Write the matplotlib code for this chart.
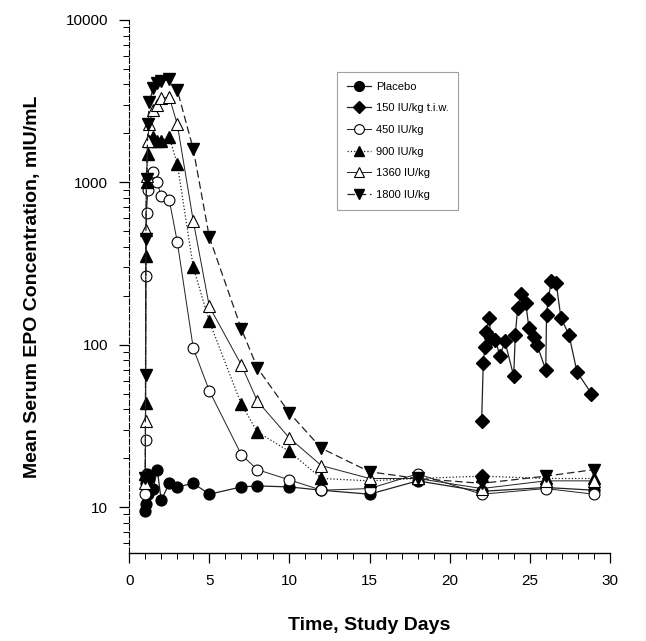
import numpy as np
import matplotlib
matplotlib.use("Agg")
import matplotlib.pyplot as plt
from matplotlib.ticker import LogLocator, FixedLocator, FuncFormatter, MultipleLocator

plt.rcParams['font.family'] = ['Liberation Sans', 'DejaVu Sans']

# sampling days (dose given on day 1)
t_single = [1.0, 1.02, 1.04, 1.08, 1.17, 1.25, 1.5, 1.75, 2.0, 2.5, 3.0,
            4, 5, 7, 8, 10, 12, 15, 18, 22, 26, 29]

placebo = [9.5, 14, 10.5, 16, 12, 15, 13, 17, 11, 14, 13.3,
           14, 12, 13.3, 13.5, 13.3, 12.7, 12, 14.5, 12.5, 13.2, 12.7]
dose_450 = [12, 26, 263, 650, 900, 1000, 1150, 1000, 820, 780, 430,
            95, 52, 21, 17, 14.7, 12.7, 13, 16, 12, 13, 12]
dose_900 = [16, 44, 350, 1000, 1500, 1800, 1900, 1800, 1800, 1900, 1300,
            300, 139, 43, 29, 22, 15, 14.5, 15, 15.5, 15, 15]
dose_1360 = [14, 34, 510, 1100, 1800, 2300, 2800, 3000, 3300, 3340, 2280,
             577, 172, 75, 45, 26.6, 18, 15, 15, 13, 14.5, 14.5]
dose_1800 = [15, 65, 450, 1050, 2300, 3100, 3800, 4100, 4200, 4300, 3700,
             1600, 460, 125, 72, 38, 23, 16.5, 15, 14, 15.5, 17]

# 150 IU/kg three times a week, days 22-29
t_150 = [22.0, 22.1, 22.2, 22.3, 22.45, 22.6, 22.85, 23.15, 23.45, 24.0,
         24.1, 24.25, 24.45, 24.75, 24.95, 25.25, 25.45, 26.0, 26.05, 26.15,
         26.35, 26.65, 26.95, 27.45, 27.95, 28.85]
dose_150 = [34, 77, 97, 120, 146, 110, 107, 85, 105, 64,
            115, 169, 204, 181, 127, 112, 100, 70, 153, 190,
            246, 240, 146, 115, 68, 50]
t_150_base = [22]
dose_150_base = [15.5]

fig = plt.figure(figsize=(6.46, 6.41), dpi=100)
ax = fig.add_axes([0.2, 0.137, 0.744, 0.832])

lc = '#222222'
ax.plot(t_single, placebo, '-', color=lc, lw=0.9, marker='o', ms=7.8,
        mfc='black', mec='black', label='Placebo')
ax.plot(t_150, dose_150, '-', color=lc, lw=0.9, marker='D', ms=6.8,
        mfc='black', mec='black', label='150 IU/kg t.i.w.')
ax.plot(t_150_base, dose_150_base, 'none', marker='D', ms=6.8,
        mfc='black', mec='black')
ax.plot(t_single, dose_450, '-', color=lc, lw=0.7, marker='o', ms=7.8,
        mfc='white', mec='black', mew=0.8, label='450 IU/kg')
ax.plot(t_single, dose_900, ':', color=lc, lw=0.9, marker='^', ms=8.2,
        mfc='black', mec='black', label='900 IU/kg')
ax.plot(t_single, dose_1360, '-', color=lc, lw=0.7, marker='^', ms=8.2,
        mfc='white', mec='black', mew=0.8, label='1360 IU/kg')
ax.plot(t_single, dose_1800, '--', color=lc, lw=0.9, dashes=(6, 3), marker='v',
        ms=8.2, mfc='black', mec='black', label='1800 IU/kg')

ax.set_yscale('log')
ax.set_ylim(5.2, 10000)
ax.set_xlim(0, 30)

ax.yaxis.set_major_locator(FixedLocator([10, 100, 1000, 10000]))
ax.yaxis.set_major_formatter(FuncFormatter(lambda v, p: '%d' % v))
ax.yaxis.set_minor_locator(LogLocator(base=10, subs=np.arange(2, 10)))
ax.yaxis.set_minor_formatter(FuncFormatter(lambda v, p: ''))
ax.xaxis.set_major_locator(MultipleLocator(5))
ax.xaxis.set_minor_locator(MultipleLocator(1))

ax.tick_params(which='major', direction='out', length=7, width=0.9,
               labelsize=11, pad=8)
ax.tick_params(which='minor', direction='out', length=4, width=0.7)

for s in ['top', 'right']:
    ax.spines[s].set_visible(False)
ax.spines['left'].set_linestyle((0, (5, 2)))
ax.spines['left'].set_linewidth(0.8)
ax.spines['bottom'].set_linewidth(1.0)

ax.set_xlabel('Time, Study Days', fontsize=14, fontweight='bold', labelpad=21)
ax.set_ylabel('Mean Serum EPO Concentration, mIU/mL', fontsize=14,
              fontweight='bold', labelpad=18)

leg = ax.legend(loc='upper left', bbox_to_anchor=(0.432, 0.903),
                borderaxespad=0, fontsize=8, frameon=True, fancybox=False,
                edgecolor='#888888', handlelength=2.2, labelspacing=1.05,
                borderpad=0.9, handletextpad=0.4, markerscale=0.9)
leg.get_frame().set_linewidth(0.8)

fig.savefig('out.png', dpi=100)
